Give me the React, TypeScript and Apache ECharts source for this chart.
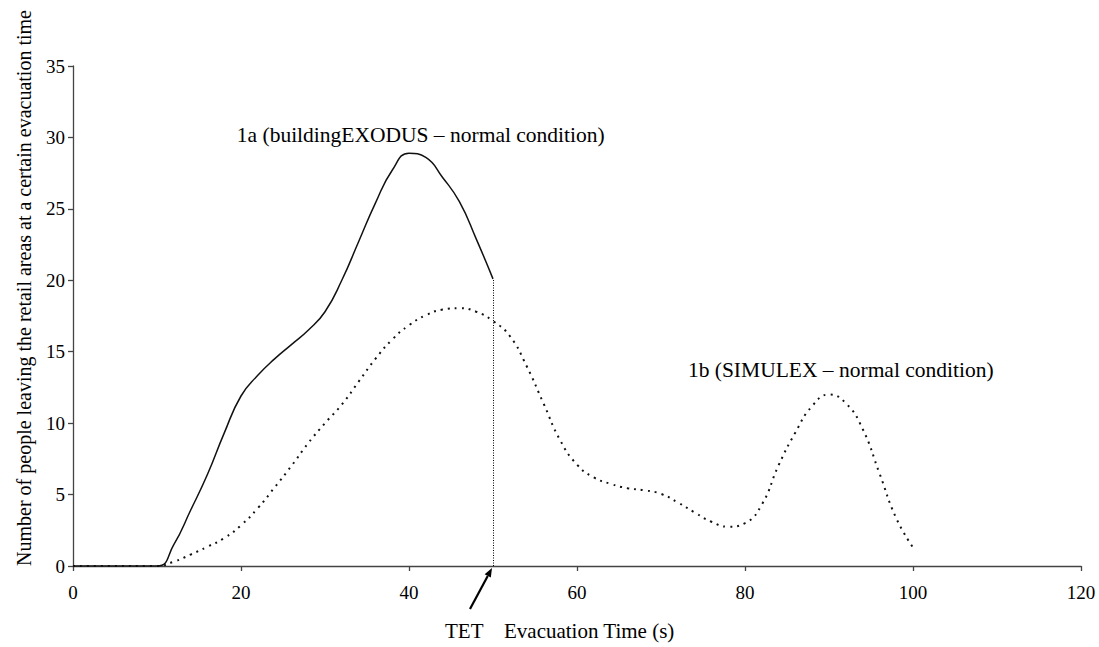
import React, { useEffect, useRef } from "react";
import * as echarts from "echarts";

const xTicks = [0, 20, 40, 60, 80, 100, 120];
const yTicks = [0, 5, 10, 15, 20, 25, 30, 35];

const exodusTime = [0, 10, 12, 14, 16, 18, 20, 22, 24, 26, 28, 30, 32, 34, 36, 38, 40, 42, 44, 46, 48, 50];
const exodusPeople = [0, 0, 1.5, 3.9, 6.4, 9.3, 11.9, 13.35, 14.5, 15.5, 16.5, 17.8, 20.0, 22.7, 25.4, 27.7, 28.9, 28.6, 27.2, 25.5, 22.9, 20.1];

const simulexTime = [0, 10, 12, 14, 16, 18, 20, 22, 24, 26, 28, 30, 32, 34, 36, 38, 40, 42, 44, 46, 48, 50, 52, 54, 56, 58, 60, 62, 64, 66, 68, 70, 72, 74, 76, 78, 80, 82, 84, 86, 88, 90, 92, 94, 96, 98, 100];
const simulexPeople = [0, 0, 0.3, 0.8, 1.35, 1.95, 2.85, 4.05, 5.5, 7.0, 8.6, 10.0, 11.3, 12.9, 14.5, 15.85, 16.85, 17.55, 17.95, 18.05, 17.8, 17.15, 16.1, 14.0, 11.4, 8.8, 7.1, 6.2, 5.75, 5.45, 5.3, 5.05, 4.45, 3.75, 3.1, 2.75, 3.0, 4.3, 7.05, 9.35, 11.2, 12.0, 11.4, 9.6, 6.5, 3.35, 1.3];

const tetTime = 50;
const tetPeople = 20.1;

const labelExodus = "1a (buildingEXODUS \u2013 normal condition)";
const labelSimulex = "1b (SIMULEX \u2013 normal condition)";
const labelExodusAt = [19.5, 30.2];
const labelSimulexAt = [73.2, 13.7];
const yTitle = "Number of people leaving the retail areas at a certain evacuation time";
const xTitle = "Evacuation Time (s)";
const tetLabel = "TET";

const FONT = "Liberation Serif";

export default function App() {
  const ref = useRef<HTMLDivElement>(null);
  useEffect(() => {
    if (!ref.current) return;
    const chart = echarts.init(ref.current, null, { renderer: "svg" });
    const zip = (a: number[], b: number[]) => a.map((v, i) => [v, b[i]]);
    const axisCommon = {
      axisLine: { show: true, lineStyle: { color: "#444", width: 1.3 } },
      axisTick: { show: true, inside: false, length: 5, lineStyle: { color: "#444", width: 1.3 } },
      splitLine: { show: false },
    };
    chart.setOption({
      animation: false,
      backgroundColor: "#fff",
      textStyle: { fontFamily: FONT },
      grid: { left: 73, right: 18, top: 66, bottom: 81, containLabel: false },
      xAxis: {
        type: "value",
        min: 0,
        max: 120,
        interval: 20,
        ...axisCommon,
        axisLabel: {
          color: "#000",
          fontFamily: FONT,
          fontSize: 19,
          margin: 17,
          formatter: (v: number) => (xTicks.includes(v) ? String(v) : ""),
        },
      },
      yAxis: {
        type: "value",
        min: 0,
        max: 35,
        interval: 5,
        ...axisCommon,
        axisLabel: {
          color: "#000",
          fontFamily: FONT,
          fontSize: 19,
          margin: 8,
          formatter: (v: number) => (yTicks.includes(v) ? String(v) : ""),
        },
      },
      series: [
        {
          type: "line",
          name: "1a",
          data: zip(exodusTime, exodusPeople),
          showSymbol: false,
          smooth: 0.5,
          lineStyle: { color: "#111", width: 1.5 },
          z: 3,
          markLine: {
            silent: true,
            symbol: ["none", "none"],
            label: { show: false },
            lineStyle: { color: "#000", width: 1, type: [1, 1.5] },
            data: [[{ coord: [tetTime, 0] }, { coord: [tetTime, tetPeople] }]],
          },
        },
        {
          type: "line",
          name: "1b",
          data: zip(simulexTime, simulexPeople),
          showSymbol: false,
          smooth: 0.5,
          lineStyle: { color: "#111", width: 2, type: [2, 5] },
          z: 2,
        },
      ],
    });

    const p1 = chart.convertToPixel({ gridIndex: 0 }, labelExodusAt) as number[];
    const p2 = chart.convertToPixel({ gridIndex: 0 }, labelSimulexAt) as number[];
    const tip = chart.convertToPixel({ gridIndex: 0 }, [tetTime, 0]) as number[];
    const tipX = tip[0] - 1;
    const tipY = tip[1] + 2;
    const tailX = tipX - 22;
    const tailY = tipY + 41;
    const ang = Math.atan2(tipY - tailY, tipX - tailX);
    const hl = 9;
    const hw = 3.5;
    const bx = tipX - hl * Math.cos(ang);
    const by = tipY - hl * Math.sin(ang);
    const nx = -Math.sin(ang);
    const ny = Math.cos(ang);

    const textStyle = (text: string, align: string, size: number) => ({
      text,
      fontFamily: FONT,
      fontSize: size,
      fill: "#000",
      align,
      verticalAlign: "middle",
    });

    chart.setOption({
      graphic: [
        { type: "text", x: p1[0], y: p1[1], style: textStyle(labelExodus, "left", 21.5) },
        { type: "text", x: p2[0], y: p2[1], style: textStyle(labelSimulex, "left", 21.5) },
        { type: "text", x: 24, y: 288, rotation: Math.PI / 2, style: textStyle(yTitle, "center", 20) },
        { type: "text", x: tailX - 25, y: 631, style: textStyle(tetLabel, "left", 21) },
        { type: "text", x: tailX + 34, y: 631, style: textStyle(xTitle, "left", 21) },
        {
          type: "line",
          shape: { x1: tailX, y1: tailY, x2: bx, y2: by },
          style: { stroke: "#000", lineWidth: 2.2 },
        },
        {
          type: "polygon",
          shape: {
            points: [
              [tipX, tipY],
              [bx + nx * hw, by + ny * hw],
              [bx - nx * hw, by - ny * hw],
            ],
          },
          style: { fill: "#000" },
        },
      ],
    });

    return () => chart.dispose();
  }, []);
  return (
    <div
      ref={ref}
      style={{ position: "fixed", left: 0, top: 0, width: 1099, height: 647, background: "#fff" }}
    />
  );
}
